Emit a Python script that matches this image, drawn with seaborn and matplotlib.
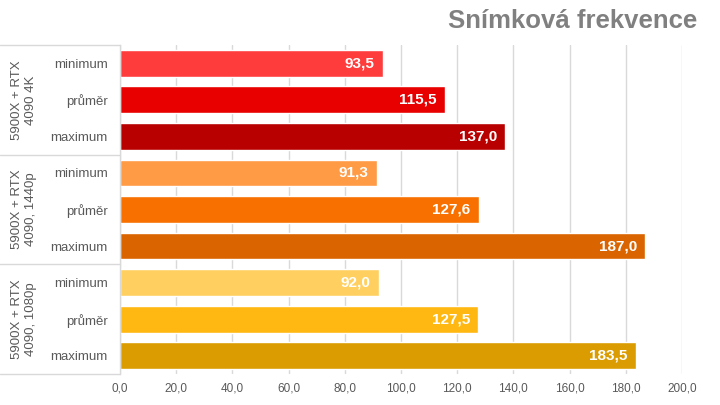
import matplotlib
matplotlib.use("Agg")
import matplotlib.pyplot as plt
import seaborn as sns
import pandas as pd
from matplotlib.lines import Line2D
import matplotlib.transforms as mtransforms

groups = ["5900X + RTX\n4090 4K", "5900X + RTX\n4090, 1440p", "5900X + RTX\n4090, 1080p"]
metrics = ["minimum", "průměr", "maximum"]
values = [93.5, 115.5, 137.0, 91.3, 127.6, 187.0, 92.0, 127.5, 183.5]
colors = ["#FF3C3C", "#E80000", "#B80000",
          "#FF9A45", "#F77000", "#DA6400",
          "#FFD060", "#FFB812", "#DA9C00"]
xticks = [0, 20, 40, 60, 80, 100, 120, 140, 160, 180, 200]
title = "Snímková frekvence"

rows = [f"{g}|{m}" for g in groups for m in metrics]
df = pd.DataFrame({"row": rows, "value": values,
                   "metric": [m for g in groups for m in metrics]})

sns.set_theme(style="white")
plt.rcParams["font.family"] = ["Liberation Sans", "DejaVu Sans"]

fig = plt.figure(figsize=(7.2, 4.05), dpi=100)
ax = fig.add_axes([120/720, 1-374/405, (682-120)/720, (374-45)/405])

sns.barplot(data=df, y="row", x="value", hue="row", palette=colors,
            order=rows, hue_order=rows, legend=False, width=0.735,
            saturation=1, ax=ax)

ax.set_xlim(0, 200)
ax.set_ylim(len(rows)-0.5, -0.5)
ax.set_xticks(xticks)
ax.set_xticklabels([f"{v:.1f}".replace(".", ",") for v in xticks],
                   color="#595959", fontsize=8.5)
ax.set_yticks(range(len(rows)))
ax.set_yticklabels(df["metric"], color="#595959", fontsize=9.5)
ax.set_xlabel("")
ax.set_ylabel("")
ax.grid(axis="x", color="#d9d9d9", linewidth=1)
ax.set_axisbelow(True)
for s in ["top", "right", "bottom"]:
    ax.spines[s].set_visible(False)
ax.spines["left"].set_color("#d9d9d9")
ax.spines["left"].set_linewidth(1)
ax.tick_params(axis="y", length=0, pad=9)
ax.tick_params(axis="x", length=4, color="#d9d9d9", pad=6, direction="in")

for i, v in enumerate(values):
    ax.text(v - 2.9, i, f"{v:.1f}".replace(".", ","), ha="right", va="center",
            color="white", fontsize=11, fontweight="bold")

trans = mtransforms.blended_transform_factory(fig.transFigure, ax.transData)
for yb in [-0.5, 2.5, 5.5, 8.5]:
    fig.add_artist(Line2D([0, 120/720], [yb, yb], transform=trans,
                          color="#d9d9d9", linewidth=1))

for gi, g in enumerate(groups):
    fig.text(24/720, gi*3 + 1, g, transform=trans, rotation=90, ha="center",
             va="center", color="#595959", fontsize=9.5, linespacing=1.3,
             multialignment="center")

fig.text(697/720, 1-21/405, title, ha="right", va="center", color="#808080",
         fontsize=18.5, fontweight="bold")

fig.savefig("out.png", dpi=100)
